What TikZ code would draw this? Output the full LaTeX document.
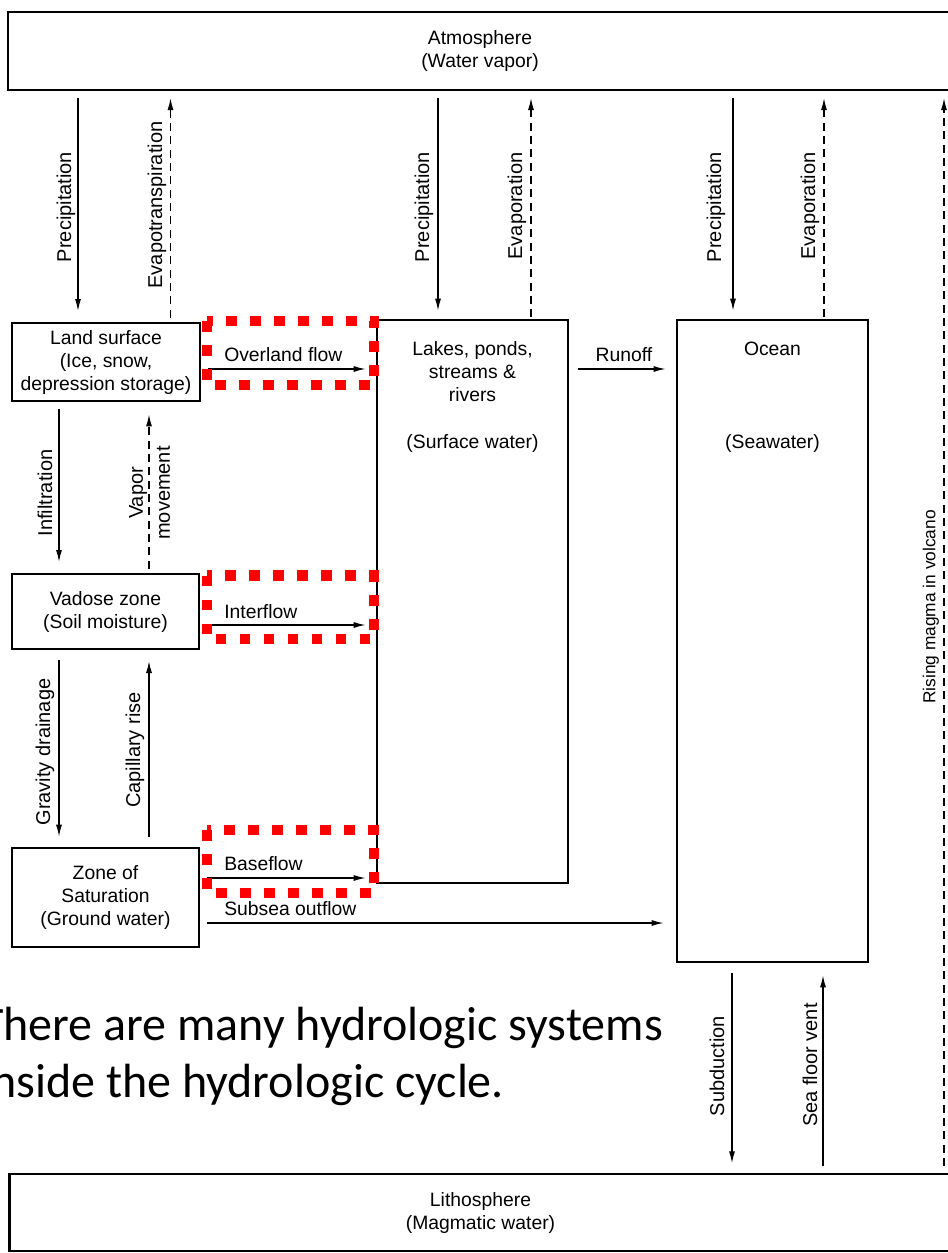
\documentclass[tikz,border=0pt]{standalone}
\usepackage{fontspec}
\setmainfont{Liberation Sans}
\newfontfamily\slidefont{Carlito}
\usepackage{tikz}
\usetikzlibrary{arrows.meta}
\usetikzlibrary{positioning}

\tikzset{
    box/.style={draw, line width=2pt, inner sep=0pt, align=center, font=\fontsize{14.5}{17.25}\selectfont},
    boxtext/.style={inner sep=0pt, align=center, font=\fontsize{14.5}{17.25}\selectfont},
    flow/.style={line width=1pt, -{Latex[length=9pt,width=4.5pt]}},
    vapour/.style={flow, dash pattern=on 6pt off 4pt},
    uplabel/.style={rotate=90, inner sep=0pt, align=center, font=\fontsize{15}{17.25}\selectfont},
    sidelabel/.style={anchor=base west, inner sep=0pt, font=\fontsize{14.5}{17.25}\selectfont},
    hilite/.style={draw=red, line width=8pt, dash pattern=on 8pt off 10pt},
}

\begin{document}
\begin{tikzpicture}[x=0.75pt, y=-0.75pt]
    \useasboundingbox (0,0) rectangle (948,1253);
    \clip (0,0) rectangle (948,1253);
    \fill[white] (0,0) rectangle (948,1253);

    % reservoirs
    \node (atmosphere) [box, minimum width=708pt, minimum height=58.5pt] at (480,51) {Atmosphere\\(Water vapor)};
    \node (lithosphere) [box, minimum width=707pt, minimum height=57.75pt] at (480.5,1212.5) {Lithosphere\\(Magmatic water)};

    \node (land_surface) [box, minimum width=141pt, minimum height=58.5pt] at (106,362) {Land surface\\(Ice, snow,\\depression storage)};
    \node (vadose_zone) [box, minimum width=140.25pt, minimum height=56.25pt] at (105.5,611.5) {Vadose zone\\(Soil moisture)};
    \node (saturation) [box, minimum width=140.25pt, minimum height=74.25pt] at (105.5,897.5) {Zone of\\Saturation\\(Ground water)};

    \node (lakes) [box, minimum width=143.25pt, minimum height=422.25pt] at (472.5,601.5) {};
    \node (lakes_name) [boxtext, below=17pt of lakes.north] {Lakes, ponds,\\streams \&\\rivers};
    \node (lakes_water) [boxtext, below=86.5pt of lakes.north] {(Surface water)};

    \node (ocean) [box, minimum width=143.25pt, minimum height=481.5pt] at (772.5,641) {};
    \node (ocean_name) [boxtext, below=17pt of ocean.north] {Ocean};
    \node (ocean_water) [boxtext, below=86.5pt of ocean.north] {(Seawater)};

    % columns and rows of the arrows
    \coordinate (col_rain1) at (78,0);
    \coordinate (col_evapo1) at (170.5,0);
    \coordinate (col_rain2) at (438,0);
    \coordinate (col_evapo2) at (531,0);
    \coordinate (col_rain3) at (733,0);
    \coordinate (col_evapo3) at (824,0);
    \coordinate (col_magma) at (944,0);
    \coordinate (col_down) at (59,0);
    \coordinate (col_up) at (149,0);
    \coordinate (col_subduct) at (732,0);
    \coordinate (col_vent) at (823,0);
    \coordinate (row_overland) at (0,369);
    \coordinate (row_inter) at (0,625);
    \coordinate (row_base) at (0,878);
    \coordinate (row_subsea) at (0,923);

    % exchange with the atmosphere
    \draw[flow, shorten <=5pt, shorten >=8pt] (atmosphere.south -| col_rain1) -- (land_surface.north -| col_rain1);
    \draw[vapour, shorten <=3pt, shorten >=5pt] (land_surface.north -| col_evapo1) -- (atmosphere.south -| col_evapo1);
    \draw[flow, shorten <=5pt, shorten >=6pt] (atmosphere.south -| col_rain2) -- (lakes.north -| col_rain2);
    \draw[vapour, shorten <=1pt, shorten >=5pt] (lakes.north -| col_evapo2) -- (atmosphere.south -| col_evapo2);
    \draw[flow, shorten <=5pt, shorten >=6pt] (atmosphere.south -| col_rain3) -- (ocean.north -| col_rain3);
    \draw[vapour, shorten <=1pt, shorten >=5pt] (ocean.north -| col_evapo3) -- (atmosphere.south -| col_evapo3);
    \draw[vapour, shorten <=5pt, shorten >=5pt] (lithosphere.north -| col_magma) -- (atmosphere.south -| col_magma);

    \node (lbl_rain1) [uplabel] at (66,207) {Precipitation};
    \node (lbl_evapo1) [uplabel] at (157,205) {Evapotranspiration};
    \node (lbl_rain2) [uplabel] at (424,207) {Precipitation};
    \node (lbl_evapo2) [uplabel] at (517,206) {Evaporation};
    \node (lbl_rain3) [uplabel] at (716,207) {Precipitation};
    \node (lbl_evapo3) [uplabel] at (810,206) {Evaporation};
    \node (lbl_magma) [uplabel, font=\fontsize{13}{15}\selectfont] at (931,607) {Rising magma in volcano};

    % soil column
    \draw[flow, shorten <=5pt, shorten >=8pt] (land_surface.south -| col_down) -- (vadose_zone.north -| col_down);
    \draw[vapour, shorten <=3pt, shorten >=9pt] (vadose_zone.north -| col_up) -- (land_surface.south -| col_up);
    \draw[flow, shorten <=7.5pt, shorten >=7.5pt] (vadose_zone.south -| col_down) -- (saturation.north -| col_down);
    \draw[flow, shorten <=7.5pt, shorten >=8pt] (saturation.north -| col_up) -- (vadose_zone.south -| col_up);

    \node (lbl_infiltration) [uplabel] at (45,493) {Infiltration};
    \node (lbl_vapor) [uplabel, font=\fontsize{15}{20.25}\selectfont] at (149.5,493) {Vapor\\movement};
    \node (lbl_gravity) [uplabel] at (45,752) {Gravity drainage};
    \node (lbl_capillary) [uplabel] at (135,750) {Capillary rise};

    % lateral flows
    \draw[flow, shorten <=5pt, shorten >=7.5pt] (land_surface.east |- row_overland) -- (lakes.west |- row_overland);
    \draw[flow, shorten <=5pt, shorten >=7.5pt] (vadose_zone.east |- row_inter) -- (lakes.west |- row_inter);
    \draw[flow, shorten <=5pt, shorten >=7.5pt] (saturation.east |- row_base) -- (lakes.west |- row_base);
    \draw[flow, shorten <=5pt, shorten >=9pt] (saturation.east |- row_subsea) -- (ocean.west |- row_subsea);
    \draw[flow, shorten <=6.5pt, shorten >=7.5pt] (lakes.east |- row_overland) -- (ocean.west |- row_overland);

    \node (lbl_overland) [sidelabel] at (224,361) {Overland flow};
    \node (lbl_inter) [sidelabel] at (224,618) {Interflow};
    \node (lbl_base) [sidelabel] at (224,870) {Baseflow};
    \node (lbl_subsea) [sidelabel] at (224,915) {Subsea outflow};
    \node (lbl_runoff) [sidelabel, anchor=base] at (624,361) {Runoff};

    % exchange with the lithosphere
    \draw[flow, shorten <=7pt, shorten >=7pt] (ocean.south -| col_subduct) -- (lithosphere.north -| col_subduct);
    \draw[flow, shorten <=5pt, shorten >=9pt] (lithosphere.north -| col_vent) -- (ocean.south -| col_vent);

    \node (lbl_subduct) [uplabel] at (717,1066) {Subduction};
    \node (lbl_vent) [uplabel] at (810,1065) {Sea floor vent};

    % highlighted systems
    \draw[hilite] (207,321) rectangle (374,385);
    \draw[hilite] (207,575.5) rectangle (374,639);
    \draw[hilite] (207,830) rectangle (374,893);

    \node (slide_text) [anchor=base west, inner sep=0pt, align=left, font=\slidefont\fontsize{36}{42.75}\selectfont] at (-20,1097) {There are many hydrologic systems\\inside the hydrologic cycle.};
\end{tikzpicture}
\end{document}
